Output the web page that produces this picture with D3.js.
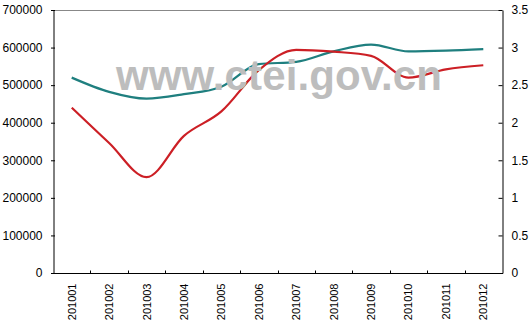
<!DOCTYPE html>
<html lang="zh">
<head>
<meta charset="UTF-8">
<title>chart</title>
<script src="https://cdn.jsdelivr.net/npm/d3@7"></script>
<style>
  body { margin: 0; background: #fff; }
  svg text { font-family: "Liberation Sans", Arial, sans-serif; }
</style>
</head>
<body>
<div id="chart"></div>
<script>
    // 月份
    var months = ["201001", "201002", "201003", "201004", "201005", "201006",
                  "201007", "201008", "201009", "201010", "201011", "201012"];
    // 红线 左轴
    var redValues = [440000, 346000, 255000, 365000, 430000, 540000,
                     594000, 589000, 578000, 520000, 542000, 553000];
    // 绿线 右轴
    var tealValues = [2.60, 2.41, 2.32, 2.38, 2.48, 2.78,
                      2.81, 2.95, 3.04, 2.95, 2.96, 2.98];
    var leftTicks = [0, 100000, 200000, 300000, 400000, 500000, 600000, 700000];
    var rightTicks = [0, 0.5, 1, 1.5, 2, 2.5, 3, 3.5];

    var width = 531, height = 322;
    var padL = 53, padR = 502, padT = 10, padB = 273;

    var svg = d3.select("#chart").append("svg")
        .attr("width", width)
        .attr("height", height);

    var x = d3.scaleBand().domain(months).range([padL, padR]);
    var yL = d3.scaleLinear().domain([0, 700000]).range([padB, padT]);
    var yR = d3.scaleLinear().domain([0, 3.5]).range([padB, padT]);

    // 上边框
    svg.append("line")
        .attr("x1", padL).attr("x2", padR)
        .attr("y1", padT + 0.5).attr("y2", padT + 0.5)
        .attr("stroke", "#888");

    // 左轴
    var gL = svg.append("g")
        .attr("transform", "translate(" + (padL + 0.5) + ",0)")
        .call(d3.axisLeft(yL).tickValues(leftTicks).tickSize(3).tickSizeOuter(0).tickFormat(d3.format("d")));
    gL.selectAll("text").attr("font-size", 12).attr("fill", "#000").attr("x", -11);
    gL.selectAll(".tick line").attr("x1", 1.5).attr("x2", -2.5);

    // 右轴
    var gR = svg.append("g")
        .attr("transform", "translate(" + (padR + 0.5) + ",0)")
        .call(d3.axisRight(yR).tickValues(rightTicks).tickSize(4).tickSizeOuter(0).tickFormat(function (d) { return String(d); }));
    gR.selectAll(".tick line").attr("x2", -4);
    gR.selectAll("text").attr("font-size", 12).attr("fill", "#000").attr("x", 9);

    // 下轴
    var gB = svg.append("g")
        .attr("transform", "translate(0," + (padB + 0.5) + ")");
    gB.append("line")
        .attr("x1", padL).attr("x2", padR + 1)
        .attr("stroke", "#000");
    gB.selectAll(".tk").data(months.slice(1))
        .enter().append("line")
        .attr("x1", function (d) { return Math.round(x(d)) + 0.5; })
        .attr("x2", function (d) { return Math.round(x(d)) + 0.5; })
        .attr("y1", 0).attr("y2", -3)
        .attr("stroke", "#000");
    gB.selectAll(".lb").data(months)
        .enter().append("text")
        .attr("transform", function (d) {
            return "translate(" + (x(d) + x.bandwidth() / 2 + 4) + ",10) rotate(-90)";
        })
        .attr("text-anchor", "end")
        .attr("font-size", 11)
        .attr("fill", "#000")
        .text(function (d) { return d; });

    svg.selectAll(".domain").attr("stroke", "#000");
    svg.selectAll(".tick line").attr("stroke", "#000");

    var cx = function (d, i) { return x(months[i]) + x.bandwidth() / 2; };

    var lineL = d3.line().x(cx).y(function (d) { return yL(d); }).curve(d3.curveMonotoneX);
    var lineR = d3.line().x(cx).y(function (d) { return yR(d); }).curve(d3.curveMonotoneX);

    svg.append("path")
        .attr("d", lineR(tealValues))
        .attr("fill", "none")
        .attr("stroke", "#1f7f7f")
        .attr("stroke-width", 2.2);

    svg.append("path")
        .attr("d", lineL(redValues))
        .attr("fill", "none")
        .attr("stroke", "#cc1f25")
        .attr("stroke-width", 2.2);

    // 水印
    svg.append("text")
        .attr("x", 116).attr("y", 90)
        .attr("font-size", 42)
        .attr("font-weight", "bold")
        .attr("textLength", 326)
        .attr("fill", "#bdbdbd")
        .text("www.ctei.gov.cn");
</script>
</body>
</html>
